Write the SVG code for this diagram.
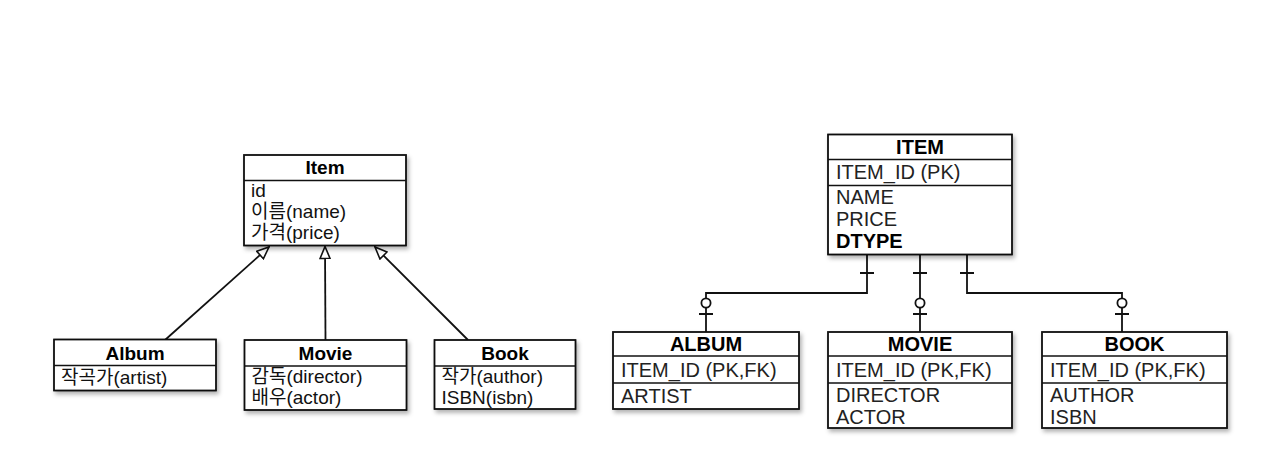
<svg xmlns="http://www.w3.org/2000/svg" width="1275" height="452" viewBox="0 0 1275 452">
<defs>
<filter id="sh" x="-10%" y="-10%" width="130%" height="140%">
<feDropShadow dx="2" dy="3" stdDeviation="2" flood-color="#000" flood-opacity="0.3"/>
</filter>
<marker id="tri" markerUnits="userSpaceOnUse" markerWidth="14" markerHeight="12" refX="13" refY="6" orient="auto">
<path d="M1,1 L13,6 L1,11 Z" fill="#fff" stroke="#111" stroke-width="1.6" stroke-linejoin="miter"/>
</marker>
<style>
.box{fill:#fff;stroke:#111;stroke-width:1.8;filter:url(#sh)}
.div{stroke:#111;stroke-width:1.6}
.hd{font-family:"Liberation Sans","Noto Sans CJK KR",sans-serif;font-weight:bold;font-size:19px;fill:#000;text-anchor:middle}
.at{font-family:"Liberation Sans","Noto Sans CJK KR",sans-serif;font-size:19px;fill:#111}
.eh{font-family:"Liberation Sans",sans-serif;font-weight:bold;font-size:20px;fill:#000;text-anchor:middle}
.ea{font-family:"Liberation Sans",sans-serif;font-size:20px;fill:#222}
.eb{font-family:"Liberation Sans",sans-serif;font-size:20px;fill:#000;font-weight:bold}
.ln{fill:none;stroke:#111;stroke-width:1.8}
.ck{fill:#fff;stroke:#111;stroke-width:1.8}
</style>
</defs>
<rect width="1275" height="452" fill="#fff"/>

<g id="connectors">
<line class="ln" x1="165" y1="340" x2="269" y2="247" marker-end="url(#tri)"/>
<line class="ln" x1="325.5" y1="340" x2="325" y2="246.5" marker-end="url(#tri)"/>
<line class="ln" x1="468" y1="340" x2="375" y2="247" marker-end="url(#tri)"/>

<path class="ln" d="M867,255 V293 H706 V332"/>
<path class="ln" d="M920,255 V332"/>
<path class="ln" d="M967,255 V293 H1122 V332"/>
<path class="ln" d="M860,273 H874 M913,273 H927 M960,273 H974"/>
<path class="ln" d="M699,314 H713 M913,314 H927 M1115,314 H1129"/>
<circle class="ck" cx="706" cy="303" r="4.6"/>
<circle class="ck" cx="920" cy="303" r="4.6"/>
<circle class="ck" cx="1122" cy="303" r="4.6"/>
</g>

<g id="Item">
<rect class="box" x="244" y="155" width="162" height="90.5"/>
<line class="div" x1="244" y1="180.5" x2="406" y2="180.5"/>
<text class="hd" x="325" y="174">Item</text>
<text class="at" x="251" y="197">id</text>
<text class="at" x="251" y="218">이름(name)</text>
<text class="at" x="251" y="239">가격(price)</text>
</g>

<g id="Album">
<rect class="box" x="54" y="339.5" width="162" height="51"/>
<line class="div" x1="54" y1="365.5" x2="216" y2="365.5"/>
<text class="hd" x="135" y="359.5">Album</text>
<text class="at" x="61" y="384">작곡가(artist)</text>
</g>

<g id="Movie">
<rect class="box" x="244.5" y="340" width="162" height="70"/>
<line class="div" x1="244.5" y1="366" x2="406.5" y2="366"/>
<text class="hd" x="325.5" y="359.5">Movie</text>
<text class="at" x="251.5" y="383">감독(director)</text>
<text class="at" x="251.5" y="404">배우(actor)</text>
</g>

<g id="Book">
<rect class="box" x="434.5" y="340" width="141" height="69"/>
<line class="div" x1="434.5" y1="366" x2="575.5" y2="366"/>
<text class="hd" x="505" y="359.5">Book</text>
<text class="at" x="441.5" y="383">작가(author)</text>
<text class="at" x="441.5" y="404">ISBN(isbn)</text>
</g>

<g id="ITEM">
<rect class="box" x="828" y="134.5" width="184" height="120"/>
<line class="div" x1="828" y1="159.5" x2="1012" y2="159.5"/>
<line class="div" x1="828" y1="185.5" x2="1012" y2="185.5"/>
<text class="eh" x="920" y="153.5">ITEM</text>
<text class="ea" x="836" y="179">ITEM_ID (PK)</text>
<text class="ea" x="836" y="204">NAME</text>
<text class="ea" x="836" y="226">PRICE</text>
<text class="eb" x="836" y="248">DTYPE</text>
</g>

<g id="ALBUM">
<rect class="box" x="613" y="332" width="186" height="77"/>
<line class="div" x1="613" y1="356" x2="799" y2="356"/>
<line class="div" x1="613" y1="383" x2="799" y2="383"/>
<text class="eh" x="706" y="351">ALBUM</text>
<text class="ea" x="621" y="377">ITEM_ID (PK,FK)</text>
<text class="ea" x="621" y="403">ARTIST</text>
</g>

<g id="MOVIE">
<rect class="box" x="828" y="332" width="184" height="96"/>
<line class="div" x1="828" y1="356" x2="1012" y2="356"/>
<line class="div" x1="828" y1="383" x2="1012" y2="383"/>
<text class="eh" x="920" y="351">MOVIE</text>
<text class="ea" x="836" y="377">ITEM_ID (PK,FK)</text>
<text class="ea" x="836" y="402">DIRECTOR</text>
<text class="ea" x="836" y="424">ACTOR</text>
</g>

<g id="BOOK">
<rect class="box" x="1042" y="332" width="185" height="96"/>
<line class="div" x1="1042" y1="356" x2="1227" y2="356"/>
<line class="div" x1="1042" y1="383" x2="1227" y2="383"/>
<text class="eh" x="1134.5" y="351">BOOK</text>
<text class="ea" x="1050" y="377">ITEM_ID (PK,FK)</text>
<text class="ea" x="1050" y="402">AUTHOR</text>
<text class="ea" x="1050" y="424">ISBN</text>
</g>
</svg>
